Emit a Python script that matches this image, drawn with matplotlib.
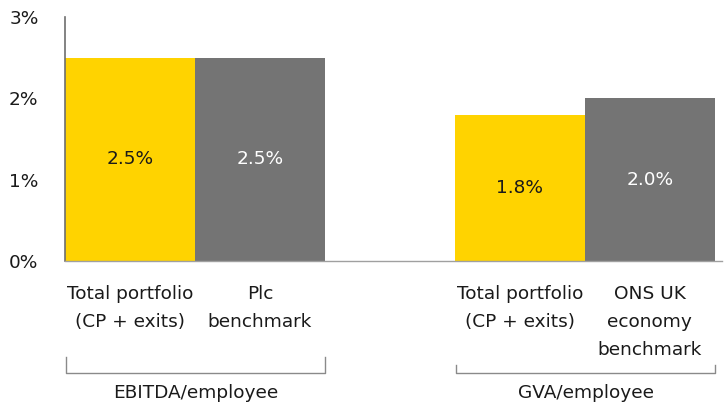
import matplotlib
matplotlib.use("Agg")
import matplotlib.pyplot as plt
import matplotlib.transforms as mtransforms

# data
categories = ["Total portfolio\n(CP + exits)", "Plc\nbenchmark",
              "Total portfolio\n(CP + exits)", "ONS UK\neconomy\nbenchmark"]
values = [2.5, 2.5, 1.8, 2.0]
positions = [0, 1, 3, 4]
groups = ["EBITDA/employee", "GVA/employee"]
group_members = [[0, 1], [2, 3]]
yticks = [0, 1, 2, 3]

YELLOW = "#FFD300"
GREY = "#747474"
colors = [YELLOW, GREY, YELLOW, GREY]
text_colors = ["#1a1a1a", "white", "#1a1a1a", "white"]

plt.rcParams["font.family"] = ["DejaVu Sans"]
FS = 13.3

fig = plt.figure(figsize=(7.24, 4.08), dpi=100)
ax = fig.add_axes([65 / 724, 1 - 261 / 408, (722 - 65) / 724, (261 - 17) / 408])

w = 1.0
ax.bar(positions, values, width=w, color=colors, edgecolor="none")
for p, v, tc in zip(positions, values, text_colors):
    ax.text(p, v / 2, f"{v:.1f}%", ha="center", va="center", color=tc, fontsize=FS)

ax.set_xlim(-0.5, 4.555)
ax.set_ylim(0, 3)
ax.set_yticks(yticks)
ax.set_yticklabels([f"{t}%" for t in yticks], fontsize=FS, color="#1a1a1a")
ax.tick_params(axis="y", length=0, pad=19)
ax.set_xticks(positions)
ax.set_xticklabels(categories, fontsize=FS, color="#1a1a1a", linespacing=1.72)
ax.tick_params(axis="x", length=0, pad=17)

for s in ["top", "right"]:
    ax.spines[s].set_visible(False)
ax.spines["left"].set_color("#6e6e6e")
ax.spines["left"].set_linewidth(1.2)
ax.spines["bottom"].set_color("#a0a0a0")
ax.spines["bottom"].set_linewidth(1.0)

# group brackets under the tick labels
trans = mtransforms.blended_transform_factory(ax.transData, fig.transFigure)
bracket_tops = [1 - 357 / 408, 1 - 365 / 408]
y_base = 1 - 373 / 408
for name, members, top in zip(groups, group_members, bracket_tops):
    x0 = positions[members[0]] - w / 2 + 0.01
    x1 = positions[members[-1]] + w / 2
    ax.plot([x0, x0, x1, x1], [top, y_base, y_base, top], transform=trans,
            color="#8a8a8a", lw=1.0, clip_on=False)
    ax.text((x0 + x1) / 2, 1 - 393 / 408, name, transform=trans, ha="center",
            va="center", fontsize=FS, color="#1a1a1a")

fig.savefig("out.png", dpi=100)
